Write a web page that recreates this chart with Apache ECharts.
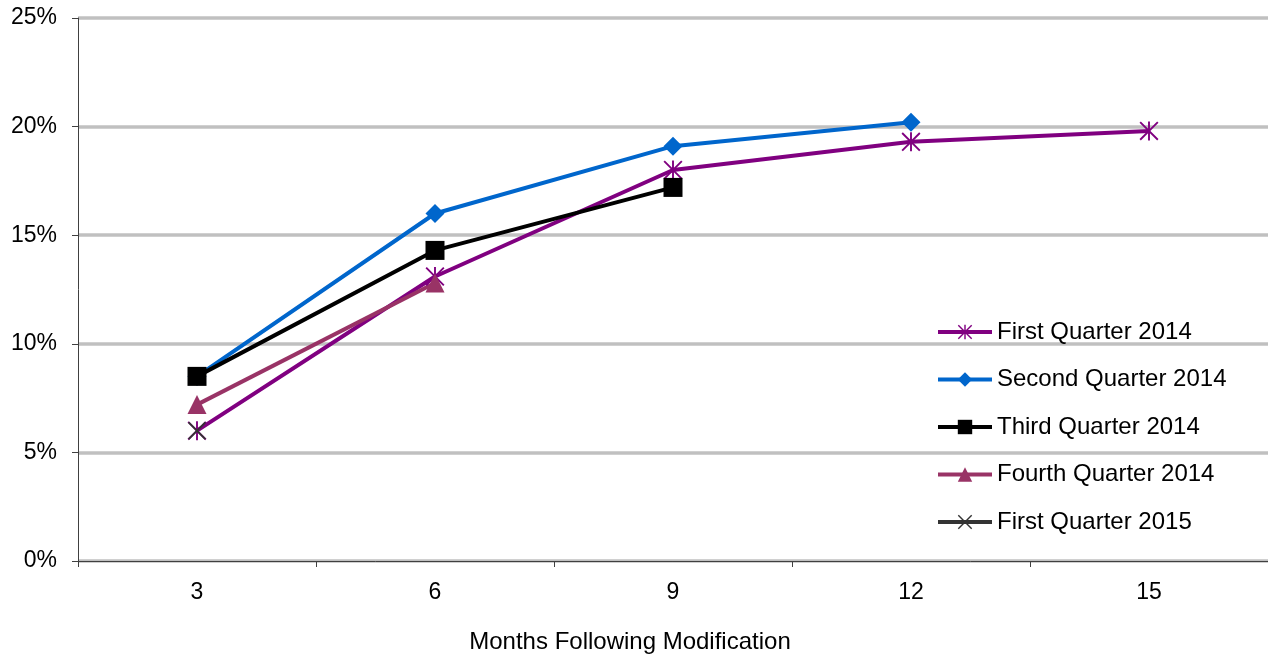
<!DOCTYPE html>
<html><head><meta charset="utf-8">
<script src="https://cdn.jsdelivr.net/npm/echarts@6/dist/echarts.min.js"></script>
<style>html,body{margin:0;padding:0;background:#fff}#c{width:1268px;height:656px}</style>
</head><body><div id="c"></div>
<script>
const categories = ['3', '6', '9', '12', '15'];
const yTicks = [0, 5, 10, 15, 20, 25];
const seriesNames = ['First Quarter 2014', 'Second Quarter 2014', 'Third Quarter 2014', 'Fourth Quarter 2014', 'First Quarter 2015'];
const q1_2014 = [6.0, 13.1, 18.0, 19.3, 19.8];
const q2_2014 = [8.5, 16.0, 19.1, 20.2];
const q3_2014 = [8.5, 14.3, 17.2];
const q4_2014 = [7.2, 12.8];
const q1_2015 = [6.0];
const xTitle = 'Months Following Modification';

const starPath = 'path://M9 0L11 0L11 20L9 20Z M0 1.4L1.4 0L20 18.6L18.6 20Z M18.6 0L20 1.4L1.4 20L0 18.6Z';
const xPath = 'path://M0 1.4L1.4 0L20 18.6L18.6 20Z M18.6 0L20 1.4L1.4 20L0 18.6Z';
const FONT = 'Liberation Sans, Arial, sans-serif';

function mk(name, data, color, symbol, size) {
  return {
    name, type: 'line', data, symbol, symbolSize: size,
    lineStyle: { color, width: 4 },
    itemStyle: { color },
    emphasis: { disabled: true },
    animation: false
  };
}

const chart = echarts.init(document.getElementById('c'));
chart.setOption({
  animation: false,
  grid: { left: 78, right: 0, top: 18, bottom: 95, containLabel: false },
  xAxis: {
    type: 'category', data: categories, boundaryGap: true,
    axisLine: { lineStyle: { color: '#404040', width: 1 } },
    axisTick: { show: true, length: 6, lineStyle: { color: '#404040' } },
    axisLabel: { color: '#000', fontSize: 23, fontFamily: FONT, margin: 20 },
    splitLine: { show: false }
  },
  yAxis: {
    type: 'value', min: yTicks[0], max: yTicks[yTicks.length - 1], interval: 5,
    axisLine: { show: true, lineStyle: { color: '#404040', width: 1 } },
    axisTick: { show: true, length: 6, lineStyle: { color: '#404040' } },
    axisLabel: { color: '#000', fontSize: 23, fontFamily: FONT, formatter: '{value}%', margin: 21 },
    splitLine: { show: true, lineStyle: { color: '#C0C0C0', width: 3.5 } }
  },
  legend: {
    orient: 'vertical', left: 936, top: 319, padding: 0,
    itemWidth: 54, itemHeight: 18, itemGap: 21.5,
    lineStyle: { width: 4 },
    textStyle: { color: '#000', fontSize: 24, fontFamily: FONT, lineHeight: 26 },
    data: seriesNames
  },
  graphic: [{
    type: 'text', x: 630, y: 642,
    style: { text: xTitle, fill: '#000', font: '24px ' + FONT, textAlign: 'center', textVerticalAlign: 'middle' }
  }],
  series: [
    mk(seriesNames[0], q1_2014, '#800080', starPath, 19),
    mk(seriesNames[1], q2_2014, '#0066CC', 'diamond', 19),
    mk(seriesNames[2], q3_2014, '#000000', 'rect', 19),
    mk(seriesNames[3], q4_2014, '#993366', 'triangle', 19),
    mk(seriesNames[4], q1_2015, '#333333', xPath, 18)
  ]
});
</script></body></html>
